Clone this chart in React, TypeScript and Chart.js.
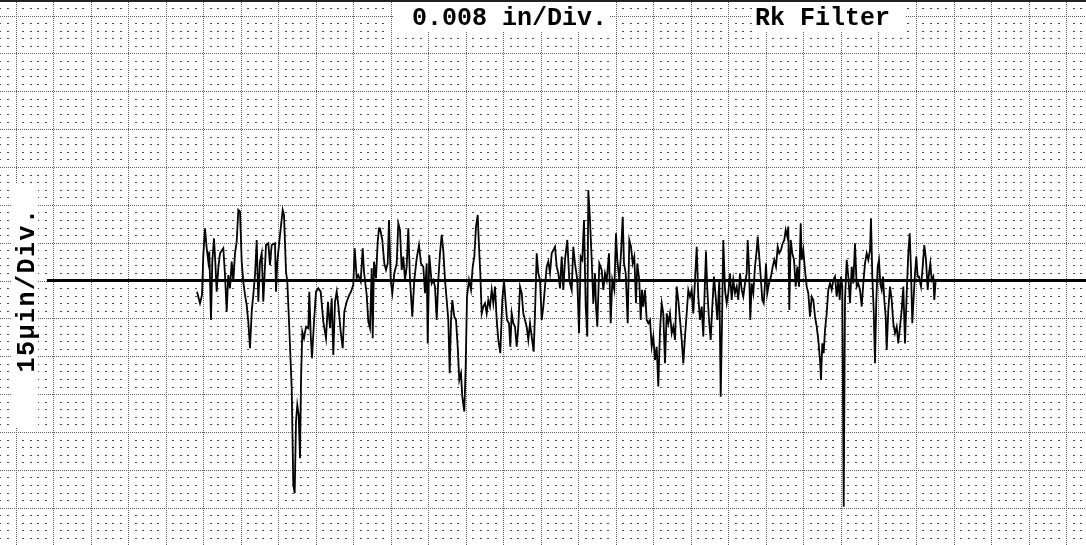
import React, { useEffect, useRef } from "react";
import { Chart, registerables } from "chart.js";

Chart.register(...registerables);

// ---- text ----
const X_DIV_LABEL = "0.008 in/Div.";
const FILTER_LABEL = "Rk Filter";
const Y_DIV_LABEL = "15\u03BCin/Div.";

// ---- scale definitions ----
const SAMPLES_PER_DIV = 37.52; // profile samples per 0.008 in division
const GRID_ORIGIN = -181.5; // sample index that falls on a major vertical grid line
const UIN_PER_DIV = 15; // µin per vertical division
const X_RANGE: [number, number] = [-197, 889];
const Y_RANGE: [number, number] = [-104.8, 111.2];
const MEAN_LINE_X: number[] = [-150, 889];

// ---- profile (sample index, height in µin) ----
const SEG_1: [number, number][] = [
  [0, -4.4], [3, -9.0], [5, -5.7], [6.3, 10], [8, 20.7], [9.7, 12.8], [11.3, 7.5], [12.3, 11.5], [14, -15.6], [15.3, 7.5],
  [17, 16.7], [18.3, 7.5], [19.7, -4.4], [21.3, 4.9], [23, 10.8], [26.3, 12.8], [28, 2.2], [29.7, -12.3], [31.3, 2.2], [33, -3.1],
  [34.7, 7.5], [36.3, -0.4], [38, 10.8], [39.7, 15.4], [41.3, 28.0], [43, 27.3], [44.7, 7.5], [46.3, -0.4], [48, -5.7], [49.7, -9.7],
  [51.3, -16.3], [53, -26.8], [54.7, -12.3], [56.3, -5.7], [58, 2.2], [59.7, 16.1], [61.3, -8.4], [63, 7.5], [64.7, 10.8], [66.3, -8.4],
  [69, 14.1], [71.3, 14.8], [73, 6.2], [74.7, 14.1], [78, 14.8], [79, -4.4], [80.3, 7.5], [83, 18.1], [85.7, 28.0], [87, 26.0],
  [89, 3.5], [90.3, -0.4], [92.3, -18.9], [94.7, -42.7], [96.3, -81.0], [97.7, -84.3], [99, -55.9], [100.3, -49.3], [101.7, -53.3], [103, -70.4],
  [104, -40.1], [105.3, -20.2], [107, -22.9], [109, -18.3], [111.3, -18.9], [112.3, -4.4], [113.7, -21.6], [115, -30.8], [117, -16.3], [119, -4.4],
  [121.3, -3.1], [123.7, -4.4], [126.3, -16.3], [129, -22.9], [131, -8.4], [133, -18.9], [134.7, -7.0], [136.3, -29.5], [138, -8.4], [139.7, -4.4],
  [141.3, -9.7], [143.7, -20.2], [145.7, -26.8], [147.3, -12.3], [149.7, -8.4], [152.3, -5.7], [154, -4.4], [156.3, -1.7], [157.7, 12.8], [159.7, 0.9],
  [161.3, 2.2], [163.7, -0.4], [165.7, 12.8], [167, 3.5], [169.7, -5.7], [171.3, -16.3], [173, -18.9], [174.7, 4.9], [175.7, -22.9], [177, 7.5],
  [179, 0.9], [180.7, 15.4], [182, 20.7],
];

const SEG_2: [number, number][] = [
  [183, 20.7], [185.3, 16.1], [187.3, 6.8], [189, 4.2], [190.7, 6.8], [192, 24.0], [193.7, 0.2], [195.3, -5.0], [197.3, 2.9], [199.7, 6.8],
  [201.3, 22.7], [203, 20.1], [204.7, 4.2], [206.3, 9.5], [208, 0.2], [209.7, 5.5], [211.3, 20.7], [213, 0.2], [215.3, -14.3], [217.3, 0.2],
  [219.7, 8.8], [222, 14.1], [224, 6.8], [226.3, 5.5], [228, -5.0], [229.7, 6.8], [230.7, -24.9], [232.3, 10.1], [234.7, -1.1], [236.3, 0.2],
  [238, -2.4], [239.7, -15.6], [241.3, 0.2], [243, 10.8], [244.7, 18.1], [246.3, 12.1], [248, 0.2], [249.7, -7.7], [251.3, -15.6], [252.7, -36.7],
  [254, -15.6], [255.3, -7.7], [257.3, -14.3], [259, -15.6], [260.7, -26.2], [262.3, -39.4], [264, -36.7], [265.3, -46.0], [267.3, -51.9], [268.7, -34.1],
  [270, -6.4], [272, 0.2], [274, -3.7], [275.7, 5.5], [277.3, 9.5], [279, 21.4], [280.7, 26.0], [282, 13.4], [283.3, 2.9], [284.7, -13.0],
  [286.3, -10.3], [288, -9.0], [289.7, -13.0], [291.3, -7.7], [293, -10.3], [294.7, -3.7], [296.3, -9.0], [298, -2.4], [299.7, -15.6], [301.3, -23.5],
  [303.3, -28.8], [305.3, -7.7], [307, 0.2], [308.7, -9.0], [310, -15.6], [312, -16.9], [313.3, -26.2], [314.7, -13.0], [316.3, -16.9], [318, -18.3],
  [319.7, -26.2], [321.3, -18.3], [323, -2.4], [324.7, -5.0], [326.3, -13.0], [328, -15.6], [329.7, -18.3], [331.3, -23.5], [333, -16.9], [334.7, -22.2],
  [336.7, -28.2], [338, -13.0], [339.7, 10.8], [341.3, 2.9], [343, 0.2], [344.7, -15.6], [346.3, -10.3], [348, -2.4], [349.7, 5.5], [351.3, 7.5],
  [353, 2.9], [354.7, 10.8], [356.3, 12.1], [358, 13.4], [359.7, 5.5], [361.3, 2.9], [363, -3.1], [364.7, 9.5],
];

const SEG_3: [number, number][] = [
  [366.3, -3.7], [368, 8.2], [370.3, 16.1], [372.3, 0.2], [374.7, -3.7], [376.3, 13.4], [378, 6.8], [380.3, 0.2], [382, -20.9], [383.7, 9.5],
  [385.3, 8.2], [387, 24.0], [388.7, -10.3], [390.3, -22.2], [391.3, 35.9], [393, 24.0], [394.7, 8.2], [396.3, -9.0], [398, 2.9], [399, -10.3],
  [400.3, -18.3], [402.3, 6.8], [404.7, 4.2], [406.3, -3.7], [408, 2.9], [409.7, 0.2], [412, 10.8], [413.7, -16.9], [415.3, 0.2], [417.3, -3.7],
  [419, 18.7], [420.3, 8.2], [422.3, 0.2], [424, 10.8], [425.7, 25.3], [427, 6.8], [428.7, 2.9], [430.7, -16.9], [432.3, 16.1], [434, 13.4],
  [435.7, 6.8], [437.3, 9.5], [439, -9.0], [440.3, 6.8], [442.3, 0.2], [443.7, -15.6], [445, -3.7], [446.3, -10.3], [448, -3.7], [449.7, -15.6],
  [451.3, -16.9], [453, -15.6], [454.7, -26.2], [456.3, -22.2], [458, -31.5], [459.7, -26.2], [461.3, -42.0], [463, -19.6], [464.7, -9.0], [466.3, -13.0],
  [468, -32.8], [469.7, -13.0], [471.3, -16.9], [473, -13.0], [474.7, -20.9], [476.3, -18.3], [478, -23.5], [479.7, -2.4], [481.3, -7.7], [483, -15.6],
  [484.7, -23.5], [486.3, -32.8], [488, -22.2], [489.7, -13.0], [491.3, -3.7], [493, -6.4], [494.7, -3.7], [496.3, -13.0], [498, 0.2], [499.7, 13.4],
  [501.3, -6.4], [503, -15.6], [504.7, -10.3], [506.3, -22.2], [508, 0.2], [509, 11.5], [510.3, -3.7], [512, -15.6], [513.7, -23.5], [515.3, -10.3],
  [517, 1.6], [518.7, -6.4], [520.3, -15.6], [522.3, 0.2], [523.7, -46.0], [525, -16.9], [526.3, 16.1], [528, -3.7], [529.7, -9.0], [531.3, -5.0],
  [533, 2.9], [534.7, -7.7], [536.3, 0.2], [538, -5.0], [539.7, -2.4], [541.3, -7.7], [543, 2.9], [544.7, -3.7], [546.3, -6.4], [548, -1.1],
  [549.7, 2.9],
];

const SEG_4: [number, number][] = [
  [550.7, 16.1], [552, 5.5], [553.3, -15.6], [554.7, -1.1], [556.3, -5.0], [558, 5.5], [559.7, 12.1], [560.7, 17.4], [562, 10.8], [563.7, 1.6],
  [565.3, -7.7], [566.7, -9.0], [568, -1.1], [569, 6.8], [570.3, -5.0], [572, -1.1], [574, 1.6], [575.7, 5.5], [577.3, 8.2], [579, 5.5],
  [580.7, 13.4], [582.3, 10.8], [584, 12.1], [585.7, 14.8], [587.3, 16.1], [588.7, 20.1], [590.3, 17.4], [591.3, 21.4], [592.3, -11.7], [593.7, 16.1],
  [595.3, 10.8], [597, 8.2], [598.7, -2.4], [600.3, 5.5], [602, -2.4], [603.7, 22.7], [604.7, 8.2], [606.3, 12.1], [608, 4.2], [609.7, -2.4],
  [611.3, -5.0], [613, -14.3], [614.7, -6.4], [616.3, -7.7], [618, -14.3], [619.7, -18.3], [621.3, -23.5], [623, -31.5], [624, -39.4], [625.3, -24.9],
  [626.7, -28.8], [628, -19.6], [629.7, -13.0], [631.3, -3.7], [633, -1.1], [634.7, -3.7], [636.3, 0.2], [638, 1.6], [639.7, -6.4], [641.3, 0.2],
  [642.7, -7.7], [644, 1.6], [645.3, -2.4], [646.7, -89.6], [648, -7.7], [649.7, 8.2], [651.3, 1.6], [653, -9.0], [654.7, 5.5], [656.3, -1.1],
  [658, 14.8], [659.7, -2.4], [661.3, -1.1], [663, -3.7], [664.7, -10.3], [666.3, -1.1], [668, 6.8], [669.7, 10.8], [671.3, 8.2], [673, 12.1],
  [674, 24.7], [675.3, 1.6], [676.7, -11.7], [678, -32.8], [679.3, -7.7], [680.7, 5.5], [682, 8.2], [683.3, -1.1], [684.7, -3.7], [686, 1.6],
  [687.3, -7.7], [688.7, -14.3], [689.7, -27.5], [691.3, -11.7], [693, -2.4], [694.7, -7.7], [696.3, -16.9], [698, -20.9], [699.7, -18.3], [701.3, -24.9],
  [703, -18.3], [704.7, -11.7], [706.3, -2.4], [708, -24.9], [709.7, -5.0], [711.3, 10.8], [712.7, 18.7], [714, 4.2], [715.3, -16.9], [716.7, -6.4],
  [718, 2.9], [719.3, 9.5], [720.7, 1.6], [722, 1.6], [724, -2.4], [725.7, 5.5], [727.3, 14.1], [729, 8.2], [730.7, -3.7], [732, 2.9],
  [733.3, 6.8], [734.7, 0.2], [736.3, 1.6], [737.3, -7.7], [738.7, 0.2],
];

const PROFILE: [number, number][] = [...SEG_1, ...SEG_2, ...SEG_3, ...SEG_4];

const MONO = '"Liberation Mono", "DejaVu Sans Mono", monospace';

const paperPlugin = {
  id: "paperGrid",
  beforeDatasetsDraw(chart: any) {
    const { ctx, width, height } = chart;
    const xs = chart.scales.x;
    const ys = chart.scales.y;
    ctx.save();
    ctx.fillStyle = "#ffffff";
    ctx.fillRect(0, 0, width, height);

    const minorX = SAMPLES_PER_DIV / 5;
    const minorY = UIN_PER_DIV / 5;
    const iStart = Math.floor((xs.min - GRID_ORIGIN) / minorX) - 1;
    const iEnd = Math.ceil((xs.max - GRID_ORIGIN) / minorX) + 1;
    const jStart = Math.floor(ys.min / minorY) - 1;
    const jEnd = Math.ceil(ys.max / minorY) + 1;

    // minor dots
    ctx.fillStyle = "#4a4a4a";
    for (let i = iStart; i <= iEnd; i++) {
      if (((i % 5) + 5) % 5 === 0) continue;
      const px = Math.round(xs.getPixelForValue(GRID_ORIGIN + i * minorX));
      for (let j = jStart; j <= jEnd; j++) {
        if (((j % 5) + 5) % 5 === 0) continue;
        const py = Math.round(ys.getPixelForValue(j * minorY));
        ctx.fillRect(px - 1, py, 2, 1);
      }
    }

    // major dotted lines
    ctx.strokeStyle = "#5f5f5f";
    ctx.lineWidth = 1;
    ctx.setLineDash([1, 1]);
    ctx.beginPath();
    for (let i = iStart; i <= iEnd; i++) {
      if (((i % 5) + 5) % 5 !== 0) continue;
      const px = Math.round(xs.getPixelForValue(GRID_ORIGIN + i * minorX)) + 0.5;
      ctx.moveTo(px, 0);
      ctx.lineTo(px, height);
    }
    for (let j = jStart; j <= jEnd; j++) {
      if (((j % 5) + 5) % 5 !== 0) continue;
      const py = Math.round(ys.getPixelForValue(j * minorY)) + 0.5;
      ctx.moveTo(0, py);
      ctx.lineTo(width, py);
    }
    ctx.stroke();
    ctx.setLineDash([]);

    // label boxes
    ctx.fillStyle = "#ffffff";
    ctx.fillRect(393, 0, 216, 32);
    ctx.fillRect(752, 0, 154, 32);
    ctx.fillRect(11, 184, 27, 244);

    // top border
    ctx.fillStyle = "#222222";
    ctx.fillRect(0, 0, width, 2);

    ctx.fillStyle = "#000000";
    ctx.font = `bold 25px ${MONO}`;
    ctx.textBaseline = "alphabetic";
    ctx.textAlign = "left";
    ctx.fillText(X_DIV_LABEL, 412, 25);
    ctx.fillText(FILTER_LABEL, 755, 25);

    ctx.translate(33.5, 290);
    ctx.rotate(-Math.PI / 2);
    ctx.textAlign = "center";
    (ctx as any).letterSpacing = "1.5px";
    ctx.fillText(Y_DIV_LABEL, 0, 0);
    ctx.restore();
  },
};

export default function App() {
  const ref = useRef<HTMLCanvasElement>(null);
  useEffect(() => {
    if (!ref.current) return;
    const chart = new Chart(ref.current, {
      type: "line",
      data: {
        datasets: [
          {
            data: PROFILE.map(([x, y]) => ({ x, y })),
            borderColor: "#000000",
            borderWidth: 1.8,
            pointRadius: 0,
            tension: 0,
            fill: false,
          },
          {
            data: MEAN_LINE_X.map((x) => ({ x, y: 0 })),
            borderColor: "#000000",
            borderWidth: 3,
            pointRadius: 0,
            fill: false,
          },
        ],
      },
      options: {
        animation: false,
        responsive: false,
        devicePixelRatio: 1,
        events: [],
        layout: { padding: 0 },
        plugins: { legend: { display: false }, tooltip: { enabled: false } },
        scales: {
          x: { type: "linear", min: X_RANGE[0], max: X_RANGE[1], display: false },
          y: { type: "linear", min: Y_RANGE[0], max: Y_RANGE[1], display: false },
        },
      },
      plugins: [paperPlugin],
    });
    return () => chart.destroy();
  }, []);
  return (
    <div style={{ position: "fixed", left: 0, top: 0, width: 1086, height: 545, background: "#fff" }}>
      <canvas ref={ref} width={1086} height={545} style={{ display: "block" }} />
    </div>
  );
}
